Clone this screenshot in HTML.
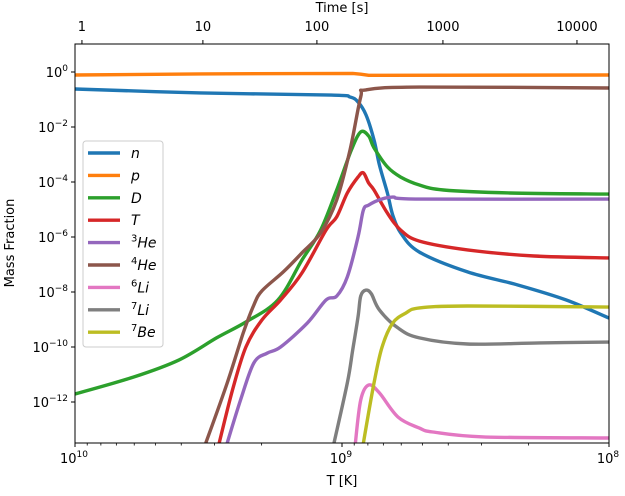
<!DOCTYPE html>
<html><head><meta charset="utf-8"><style>
body{margin:0;background:#fff;}
svg{font-family:"DejaVu Sans","Liberation Sans",sans-serif;}
</style></head><body>
<svg id="chart" width="625" height="491" xmlns="http://www.w3.org/2000/svg">
<defs><clipPath id="clip"><rect x="75" y="44" width="534" height="399"/></clipPath></defs>
<g id="series" clip-path="url(#clip)"></g>
<g id="axes"></g>
<g id="legend"></g>
</svg>
<script>
// log10 T values and log10 mass fraction values
const pT=[10.00,9.53,8.96,8.93,8.90,8.00];
const pX=[-0.11,-0.07,-0.05,-0.08,-0.12,-0.11];
const nT=[10.00,9.53,9.04,8.97,8.94,8.91,8.88,8.86,8.83,8.81,8.78,8.71,8.53,8.34,8.16,8.00];
const nX=[-0.62,-0.76,-0.84,-0.91,-1.09,-1.56,-2.47,-3.38,-4.40,-5.20,-5.85,-6.55,-7.27,-7.75,-8.29,-8.95];
const dT=[10.00,9.78,9.61,9.47,9.36,9.24,9.15,9.08,9.02,8.965,8.93,8.90,8.88,8.83,8.78,8.71,8.62,8.37,8.00];
const dX=[-11.71,-11.09,-10.47,-9.67,-9.09,-8.29,-6.84,-5.75,-4.29,-2.84,-2.18,-2.33,-2.76,-3.45,-3.82,-4.11,-4.29,-4.40,-4.44];
const tT=[9.46,9.41,9.36,9.30,9.23,9.15,9.06,9.02,8.98,8.94,8.92,8.90,8.88,8.83,8.78,8.71,8.53,8.28,8.00];
const tX=[-13.49,-11.56,-10.00,-9.02,-8.29,-7.31,-5.75,-5.27,-4.40,-3.82,-3.67,-4.04,-4.29,-5.13,-5.75,-6.15,-6.47,-6.69,-6.76];
const he3T=[9.43,9.38,9.33,9.28,9.23,9.13,9.06,9.02,8.98,8.94,8.92,8.90,8.86,8.81,8.71,8.00];
const he3X=[-13.49,-11.93,-10.58,-10.22,-10.00,-9.13,-8.29,-8.15,-7.45,-6.00,-5.02,-4.84,-4.65,-4.55,-4.62,-4.62];
const he4T=[9.51,9.43,9.37,9.33,9.30,9.22,9.15,9.08,9.02,8.97,8.93,8.91,8.71,8.00];
const he4X=[-13.49,-11.31,-9.49,-8.47,-7.96,-7.27,-6.58,-5.85,-4.65,-2.84,-0.91,-0.65,-0.55,-0.58];
const li7T=[9.03,8.98,8.96,8.94,8.93,8.91,8.89,8.86,8.79,8.71,8.53,8.26,8.00];
const li7X=[-13.49,-11.31,-10.11,-8.91,-8.15,-7.93,-8.07,-8.65,-9.31,-9.67,-9.89,-9.85,-9.82];
const be7T=[8.92,8.88,8.85,8.81,8.76,8.71,8.53,8.00];
const be7X=[-13.49,-11.31,-10.00,-9.13,-8.76,-8.58,-8.51,-8.55];
const li6T=[8.95,8.93,8.90,8.86,8.79,8.71,8.66,8.47,8.00];
const li6X=[-13.49,-11.93,-11.38,-11.67,-12.55,-12.95,-13.09,-13.27,-13.31];
const yTicks=[0,-2,-4,-6,-8,-10,-12];
const xTicks=[10,9,8];
const topTickT=[9.974,9.521,9.094,8.622,8.120];
const topTickLabels=["1","10","100","1000","10000"];

const X0=75,X1=609,Y0=44,Y1=443;
const sx=lt=>X0+(10-lt)*(X1-X0)/2;
const sy=lx=>72-lx*27.5;
const NS="http://www.w3.org/2000/svg";
function mk(tag,attrs,parent){const e=document.createElementNS(NS,tag);for(const k in attrs)e.setAttribute(k,attrs[k]);parent.appendChild(e);return e;}
function smoothPath(P){
 let d='M'+P[0][0].toFixed(1)+','+P[0][1].toFixed(1);
 for(let i=0;i<P.length-1;i++){
  const p0=P[i-1]||P[i],p1=P[i],p2=P[i+1],p3=P[i+2]||P[i+1];
  const k=1/6;
  const c1=[p1[0]+(p2[0]-p0[0])*k,p1[1]+(p2[1]-p0[1])*k];
  const c2=[p2[0]-(p3[0]-p1[0])*k,p2[1]-(p3[1]-p1[1])*k];
  d+='C'+c1[0].toFixed(1)+','+c1[1].toFixed(1)+' '+c2[0].toFixed(1)+','+c2[1].toFixed(1)+' '+p2[0].toFixed(1)+','+p2[1].toFixed(1);
 }
 return d;
}
function linePath(P){return P.map((q,j)=>(j?'L':'M')+q[0].toFixed(1)+','+q[1].toFixed(1)).join('');}
const series=[
 ["n","n",nT,nX,"#1f77b4",""],["p","p",pT,pX,"#ff7f0e",""],["D","D",dT,dX,"#2ca02c",""],
 ["T","T",tT,tX,"#d62728",""],["He","he3",he3T,he3X,"#9467bd","3"],["He","he4",he4T,he4X,"#8c564b","4"],
 ["Li","li6",li6T,li6X,"#e377c2","6"],["Li","li7",li7T,li7X,"#7f7f7f","7"],["Be","be7",be7T,be7X,"#bcbd22","7"]];
const sg=document.getElementById('series');
series.forEach((s,i)=>{
 const P=s[2].map((t,j)=>[sx(t),sy(s[3][j])]);
 const d=s[1]==='p'?linePath(P):smoothPath(P);
 const p=mk('path',{d:d,fill:'none',stroke:s[4],'stroke-width':3.4,'stroke-linejoin':'round','stroke-linecap':'butt'},sg);
 
 
});
const ax=document.getElementById('axes');
const frame=mk('rect',{x:X0,y:Y0,width:X1-X0,height:Y1-Y0,fill:'none',stroke:'#000','stroke-width':1},ax);


yTicks.forEach(v=>{
 const y=sy(v);
 mk('line',{x1:X0-4,x2:X0,y1:y,y2:y,stroke:'#000'},ax);
 const t=mk('text',{x:X0-7,y:y+5,'text-anchor':'end','font-size':13},ax);
 
 
 t.innerHTML='10<tspan dy="-6" font-size="9">'+(v===0?'0':'\u2212'+(-v))+'</tspan>';
});
xTicks.forEach(v=>{
 const x=sx(v);
 mk('line',{x1:x,x2:x,y1:Y1,y2:Y1+4,stroke:'#000'},ax);
 const t=mk('text',{x:x-1,y:Y1+20,'text-anchor':'middle','font-size':13},ax);
 
 
 t.innerHTML='10<tspan dy="-6" font-size="9">'+v+'</tspan>';
});
[10,9].forEach(dec=>{for(let m=2;m<=9;m++){const x=sx(dec-1+Math.log10(m));mk('line',{x1:x,x2:x,y1:Y1,y2:Y1+2.5,stroke:'#000','stroke-width':0.8},ax);}});
topTickT.forEach((v,i)=>{
 const x=sx(v);
 mk('line',{x1:x,x2:x,y1:Y0-4,y2:Y0,stroke:'#000'},ax);
 const t=mk('text',{x:x,y:Y0-13,'text-anchor':'middle','font-size':13},ax);
 
 
 t.textContent=topTickLabels[i];
});
let t=mk('text',{x:342,y:12,'text-anchor':'middle','font-size':13},ax);


t.textContent='Time [s]';
t=mk('text',{x:342,y:485,'text-anchor':'middle','font-size':13},ax);


t.textContent='T [K]';
t=mk('text',{x:14,y:243,'text-anchor':'middle','font-size':13,transform:'rotate(-90 14 243)'},ax);


t.textContent='Mass Fraction';
const lg=document.getElementById('legend');
const box=mk('rect',{x:83,y:141,width:80,height:206,rx:3,fill:'#fff','fill-opacity':0.8,stroke:'#ccc'},lg);


series.forEach((s,i)=>{
 const y=153+i*22.4;
 const g=mk('g',{},lg);
 
 
 mk('line',{x1:88,x2:120,y1:y,y2:y,stroke:s[4],'stroke-width':3.4},g);
 const tx=mk('text',{x:131,y:y+5,'font-size':14,'font-style':'italic'},g);
 tx.innerHTML=(s[5]?'<tspan font-style="normal" font-size="10" dy="-6">'+s[5]+'</tspan><tspan dy="6">'+s[0]+'</tspan>':s[0]);
});
</script>
</body></html>
